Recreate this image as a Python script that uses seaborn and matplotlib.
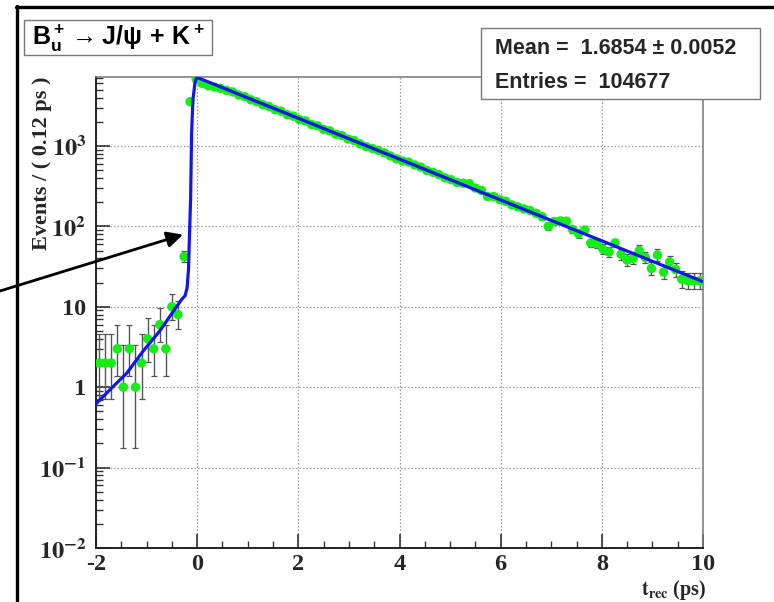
import math
import numpy as np
import pandas as pd
import matplotlib
matplotlib.use("Agg")
import matplotlib.pyplot as plt
import seaborn as sns
from matplotlib.lines import Line2D
from matplotlib.patches import Rectangle
from matplotlib.ticker import FixedLocator, FixedFormatter, LogLocator, NullFormatter, MultipleLocator

# ---------------- data ----------------
bin_lo, bin_hi, n_bins = -2.0, 10.0, 100

counts = [
    2, 2, 2, 3, 1, 3, 1, 2, 4, 3, 6, 3, 10, 8, 42, 3550,          # -1.94 .. -0.14
    6800,                                                          # -0.02
    6000, 5600, 5400, 5200, 4900, 4700, 4300, 4100,                # 0.10 .. 0.94
    3750, 3550, 3250, 3100, 2820, 2700, 2450, 2350,                # 1.06 .. 1.90
    2130, 2050, 1850, 1780, 1600, 1540, 1400, 1350, 1220,          # 2.02 .. 2.98
    1170, 1060, 980, 930, 880, 820, 750, 690,                      # 3.10 .. 3.94
    650, 630, 580, 545, 495, 470, 440, 400,                        # 4.06 .. 4.90
    380, 350, 345, 340, 300, 280, 235, 235, 215,                   # 5.02 .. 5.98
    205, 185, 175, 165, 158, 145, 132, 100,                        # 6.10 .. 6.94
    115,                                                           # 7.06
    117, 116, 92, 81, 90, 62, 61, 52, 48, 62, 45, 38,              # 7.18 .. 8.50
    40, 50, 41, 30, 44, 27, 36, 29, 22, 21, 21, 21,                # 8.62 .. 9.94
]

fit_t = [-2.0, -1.71, -1.39, -1.07, -0.74, -0.47, -0.30, -0.24, -0.20, -0.17,
         -0.155, -0.13, -0.11, -0.085, -0.045, -0.01, 10.0]
fit_y = [0.62, 0.95, 1.5, 2.8, 5.0, 8.8, 12.5, 13.7, 17.0, 30.0,
         68.0, 215.0, 1450.0, 3700.0, 6000.0, 7150.0, 20.5]

x_ticks = [-2, 0, 2, 4, 6, 8, 10]
x_tick_labels = ["-2", "0", "2", "4", "6", "8", "10"]
y_ticks = [0.01, 0.1, 1, 10, 100, 1000]
y_tick_labels = [r"$\mathbf{10^{-2}}$", r"$\mathbf{10^{-1}}$", "1", "10",
                 r"$\mathbf{10^{2}}$", r"$\mathbf{10^{3}}$"]

title_text = r"$\mathbf{B_u^+}\rightarrow\mathbf{J/}\psi\mathbf{\,+\,K^+}$"
stats_lines = ["Mean =  1.6854 \u00b1 0.0052", "Entries =  104677"]
ylabel_text = "Events / ( 0.12 ps )"
xlabel_text = r"$\mathbf{t_{rec}}$ (ps)"

# ---------------- helpers ----------------
def poisson_interval(n, cl=0.682689):
    a = (1.0 - cl) / 2.0
    if n > 50:
        s = math.sqrt(n + 0.25)
        return n + 0.5 - s, n + 0.5 + s

    def cdf(k, mu):
        return sum(math.exp(-mu + i * math.log(mu) - math.lgamma(i + 1)) for i in range(k + 1))

    lo_b, hi_b = max(n, 1e-9), n + 10 * math.sqrt(n + 1) + 10
    for _ in range(70):
        mid = 0.5 * (lo_b + hi_b)
        if cdf(n, mid) > a:
            lo_b = mid
        else:
            hi_b = mid
    up = 0.5 * (lo_b + hi_b)
    if n == 0:
        return 0.0, up
    lo_b, hi_b = 1e-9, float(n)
    for _ in range(70):
        mid = 0.5 * (lo_b + hi_b)
        if cdf(n - 1, mid) > 1 - a:
            lo_b = mid
        else:
            hi_b = mid
    return 0.5 * (lo_b + hi_b), up


edges = np.linspace(bin_lo, bin_hi, n_bins + 1)
centers = 0.5 * (edges[:-1] + edges[1:])
vals = np.array(counts[:n_bins], dtype=float)
df = pd.DataFrame({"t": centers[:len(vals)], "n": vals})
intervals = [poisson_interval(int(v)) for v in df["n"]]
df["lo"] = [v - iv[0] for v, iv in zip(df["n"], intervals)]
df["hi"] = [iv[1] - v for v, iv in zip(df["n"], intervals)]
fit_df = pd.DataFrame({"t": fit_t, "y": fit_y})

# ---------------- style ----------------
sns.set_style("white")
plt.rcParams["font.family"] = ["Liberation Serif", "DejaVu Serif"]
plt.rcParams["font.weight"] = "bold"
plt.rcParams["mathtext.fontset"] = "custom"
plt.rcParams["mathtext.rm"] = "Liberation Sans:bold"
plt.rcParams["mathtext.bf"] = "Liberation Sans:bold"
plt.rcParams["mathtext.it"] = "Liberation Sans:bold"
plt.rcParams["mathtext.sf"] = "Liberation Sans:bold"

W, H = 774, 602
fig = plt.figure(figsize=(W / 100, H / 100), dpi=100)
fig.patch.set_facecolor("white")

def fx(px):
    return px / W

def fy(py):
    return 1 - py / H

ax_l, ax_r, ax_t, ax_b = 96, 703, 77, 548
ax = fig.add_axes([fx(ax_l), fy(ax_b), fx(ax_r - ax_l), (ax_b - ax_t) / H])
ax.set_yscale("log")
ax.set_xlim(-2, 10)
ax.set_ylim(0.01, 7200)

# grid
ax.grid(True, which="major", color="#9a9a9a", linestyle=(0, (1.2, 1.6)), linewidth=0.9)
ax.set_axisbelow(True)

# error bars
ax.errorbar(df["t"], df["n"], yerr=[df["lo"], df["hi"]], fmt="none",
            ecolor="#555555", elinewidth=1.0, capsize=2.2, capthick=0.9, zorder=2)
# points
sns.scatterplot(data=df, x="t", y="n", ax=ax, color="#14ee14", s=46,
                edgecolor="none", linewidth=0, zorder=3, legend=False)
# fit curve
sns.lineplot(data=fit_df, x="t", y="y", ax=ax, color="#1414f0", linewidth=2.3,
             sort=False, estimator=None, zorder=4, legend=False)

# ticks
ax.xaxis.set_major_locator(FixedLocator(x_ticks))
ax.xaxis.set_major_formatter(FixedFormatter(x_tick_labels))
ax.xaxis.set_minor_locator(MultipleLocator(0.5))
ax.yaxis.set_major_locator(FixedLocator(y_ticks))
ax.yaxis.set_major_formatter(FixedFormatter(y_tick_labels))
ax.yaxis.set_minor_locator(LogLocator(base=10, subs=np.arange(2, 10), numticks=20))
ax.yaxis.set_minor_formatter(NullFormatter())
ax.tick_params(axis="both", which="major", direction="in", length=10, width=1.2,
               color="#333333", labelsize=17.5, pad=7)
ax.tick_params(axis="x", which="major", pad=4)
ax.tick_params(axis="both", which="minor", direction="in", length=5, width=1.0,
               color="#333333")
ax.tick_params(axis="y", which="both", left=True, right=False)
ax.tick_params(axis="x", which="both", bottom=True, top=False)
for lab in ax.get_yticklabels() + ax.get_xticklabels():
    lab.set_fontweight("bold")
    lab.set_math_fontfamily("stix")

for side in ["left", "bottom"]:
    ax.spines[side].set_color("#222222")
    ax.spines[side].set_linewidth(1.4)
for side in ["top", "right"]:
    ax.spines[side].set_color("#777777")
    ax.spines[side].set_linewidth(1.1)

ax.set_xlabel(xlabel_text, fontsize=14.5, fontweight="bold", math_fontfamily="stix")
ax.xaxis.set_label_coords((706 - ax_l) / (ax_r - ax_l), (ax_b - 590) / (ax_b - ax_t))
ax.xaxis.label.set_ha("right")
ax.xaxis.label.set_va("center")

ax.set_ylabel(ylabel_text, fontsize=16, fontweight="bold")
ax.yaxis.set_label_coords((42 - ax_l) / (ax_r - ax_l), 1.0)
ax.yaxis.label.set_ha("right")
ax.yaxis.label.set_va("center")

# arrow
ax.annotate("", xy=(-0.28, 79), xycoords="data",
            xytext=(0, H - 291), textcoords="figure pixels",
            arrowprops=dict(arrowstyle="-|>", color="black", lw=2.0,
                            mutation_scale=24, shrinkA=0, shrinkB=0),
            annotation_clip=False, zorder=6)

# canvas frame
fig.add_artist(Line2D([fx(17), fx(17)], [fy(6), 0], color="black", lw=2.4))
fig.add_artist(Line2D([fx(16), 1], [fy(7), fy(7)], color="black", lw=2.4))

# title box
fig.add_artist(Rectangle((fx(24), fy(55)), fx(212 - 24), (55 - 20) / H,
                         facecolor="white", edgecolor="#777777", lw=1.0, zorder=5))
fig.text(fx(32), fy(38), title_text, fontsize=18, ha="left", va="center",
         color="black", zorder=6)

# stats box
fig.add_artist(Rectangle((fx(481), fy(99)), fx(760 - 481), (99 - 28) / H,
                         facecolor="white", edgecolor="#777777", lw=1.0, zorder=5))
fig.text(fx(495), fy(49), stats_lines[0], fontsize=15.5, ha="left", va="center",
         family=["Liberation Sans", "DejaVu Sans"], fontweight="bold", zorder=6)
fig.text(fx(495), fy(83), stats_lines[1], fontsize=15.5, ha="left", va="center",
         family=["Liberation Sans", "DejaVu Sans"], fontweight="bold", zorder=6)

fig.savefig("out.png", dpi=100, facecolor="white")
